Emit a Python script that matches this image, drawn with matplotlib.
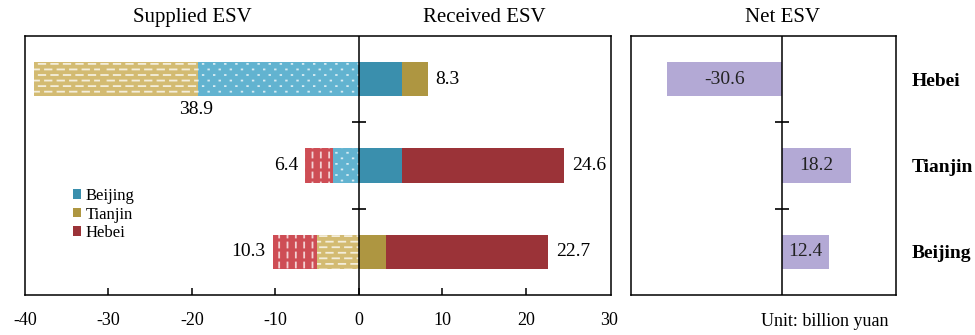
import numpy as np
import matplotlib
matplotlib.use("Agg")
import matplotlib.pyplot as plt
import matplotlib.hatch as mhatch
import matplotlib.transforms as mtransforms
from matplotlib.patches import Patch
from matplotlib.path import Path

# provinces, bottom row first
regions = ["Beijing", "Tianjin", "Hebei"]

# ESV supplied by each row region, split by the receiving region
supplied_to_beijing = [0.0, 3.1, 19.3]
supplied_to_tianjin = [5.0, 0.0, 19.6]
supplied_to_hebei = [5.3, 3.3, 0.0]

# ESV received by each row region, split by the supplying region
received_from_beijing = [0.0, 5.2, 5.2]
received_from_tianjin = [3.3, 0.0, 3.1]
received_from_hebei = [19.4, 19.4, 0.0]

xticks = [-40, -30, -20, -10, 0, 10, 20, 30]

solid = {"Beijing": "#3A8FAD", "Tianjin": "#AE9641", "Hebei": "#9B3338"}
light = {"Beijing": "#62B3D0", "Tianjin": "#D3BB72", "Hebei": "#CE4D55"}
hatch = {"Beijing": ".", "Tianjin": "-", "Hebei": "|"}
net_color = "#B3A9D5"


# office-style fill patterns: staggered dots, short horizontal and vertical dashes
class _Segments:
    def __init__(self, hatch, density):
        segs = self.segments() if self.char in hatch else []
        self.segs = segs
        self.num_vertices = 2 * len(segs)

    def set_vertices_and_codes(self, vertices, codes):
        for i, (x0, y0, x1, y1) in enumerate(self.segs):
            vertices[2 * i] = (x0, y0)
            vertices[2 * i + 1] = (x1, y1)
            codes[2 * i] = Path.MOVETO
            codes[2 * i + 1] = Path.LINETO


class DotHatch(_Segments):
    char = "."

    def segments(self):
        out = []
        for r in range(18):
            yy = (r + 0.5) / 18
            off = 0.5 if r % 2 else 0.0
            for k in range(9):
                xx = (k + off + 0.25) / 9
                out.append((xx, yy, xx + 0.006, yy))
        return out


class HDashHatch(_Segments):
    char = "-"

    def segments(self):
        out = []
        for r in range(18):
            yy = (r + 0.5) / 18
            off = 0.5 if r % 2 else 0.0
            for k in range(8):
                xx = (k + off + 0.1) / 8
                out.append((xx, yy, min(xx + 0.065, 1.0), yy))
        return out


class VDashHatch(_Segments):
    char = "|"

    def segments(self):
        out = []
        for c in range(12):
            xx = (c + 0.5) / 12
            for k in range(10):
                yy = (k + 0.25) / 10
                out.append((xx, yy, xx, yy + 0.05))
        return out


mhatch._hatch_types = [DotHatch, HDashHatch, VDashHatch]

plt.rcParams["font.family"] = ["Liberation Serif", "DejaVu Serif"]
plt.rcParams["hatch.linewidth"] = 1.3

supplied = {"Beijing": np.array(supplied_to_beijing),
            "Tianjin": np.array(supplied_to_tianjin),
            "Hebei": np.array(supplied_to_hebei)}
received = {"Beijing": np.array(received_from_beijing),
            "Tianjin": np.array(received_from_tianjin),
            "Hebei": np.array(received_from_hebei)}
sup_total = sum(supplied.values())
rec_total = sum(received.values())
net = rec_total - sup_total

y = np.arange(len(regions))
h = 0.4

fig = plt.figure(figsize=(9.75, 3.35), dpi=100)
ax = fig.add_axes([0.0256, 0.1194, 0.601, 0.773])
axn = fig.add_axes([0.6472, 0.1194, 0.2718, 0.773])

# supplied (left, patterned) and received (right, solid)
left = np.zeros(len(regions))
for r in regions:
    ax.barh(y, -supplied[r], height=h, left=-left, color=light[r],
            hatch=hatch[r], edgecolor=(1, 1, 1, 0.75), linewidth=0)
    left += supplied[r]
right = np.zeros(len(regions))
for r in regions:
    ax.barh(y, received[r], height=h, left=right, color=solid[r], linewidth=0)
    right += received[r]

for i in range(len(regions)):
    if sup_total[i] > 30:
        ax.text(-sup_total[i] / 2, y[i] - h / 2 - 0.05, f"{sup_total[i]:.1f}",
                ha="center", va="top", fontsize=14)
    else:
        ax.text(-sup_total[i] - 0.9, y[i], f"{sup_total[i]:.1f}",
                ha="right", va="center", fontsize=14)
    ax.text(rec_total[i] + 0.9, y[i], f"{rec_total[i]:.1f}",
            ha="left", va="center", fontsize=14)

# net balance
axn.barh(y, net, height=h, color=net_color, linewidth=0)
for i in range(len(regions)):
    axn.text(net[i] / 2, y[i], f"{net[i]:.1f}", ha="center", va="center",
             fontsize=14, color="#222222")

for a in (ax, axn):
    a.set_xlim(-40, 30.2)
    a.set_ylim(-0.5, 2.5)
    a.axvline(0, color="black", lw=1.1, zorder=3)
    a.plot([0, 0], [0.5, 1.5], ls="none", marker="_", ms=10, mew=1.2,
           color="black", zorder=4)
    for s in a.spines.values():
        s.set_linewidth(1.1)

ax.set_xticks(xticks)
ax.set_xticklabels([str(t) for t in xticks], fontsize=13)
ax.tick_params(axis="x", direction="in", length=5, width=1.1, pad=12)
# end ticks sit on the frame, keep only their labels
for t in (ax.xaxis.get_major_ticks()[0], ax.xaxis.get_major_ticks()[-1]):
    t.tick1line.set_visible(False)
ax.set_yticks([])

axn.set_xticks([])
axn.yaxis.tick_right()
axn.set_yticks(y)
axn.set_yticklabels(regions, fontsize=14, fontweight="bold")
axn.tick_params(axis="y", length=0, pad=11)

# panel titles
tr = mtransforms.blended_transform_factory(ax.transData, ax.transAxes)
ax.text(-20, 1.07, "Supplied ESV", transform=tr, ha="center", va="center", fontsize=15)
ax.text(15, 1.07, "Received ESV", transform=tr, ha="center", va="center", fontsize=15)
trn = mtransforms.blended_transform_factory(axn.transData, axn.transAxes)
axn.text(0, 1.07, "Net ESV", transform=trn, ha="center", va="center", fontsize=15)

fig.text(0.911, 0.04, "Unit: billion yuan", ha="right", va="center", fontsize=13)

handles = [Patch(facecolor=solid[r], label=r) for r in regions]
ax.legend(handles=handles, loc="upper left", bbox_to_anchor=(0.068, 0.445),
          frameon=False, fontsize=12, handlelength=0.5, handleheight=0.5,
          handletextpad=0.25, labelspacing=0.15, borderpad=0)

fig.savefig("out.png", dpi=100)
